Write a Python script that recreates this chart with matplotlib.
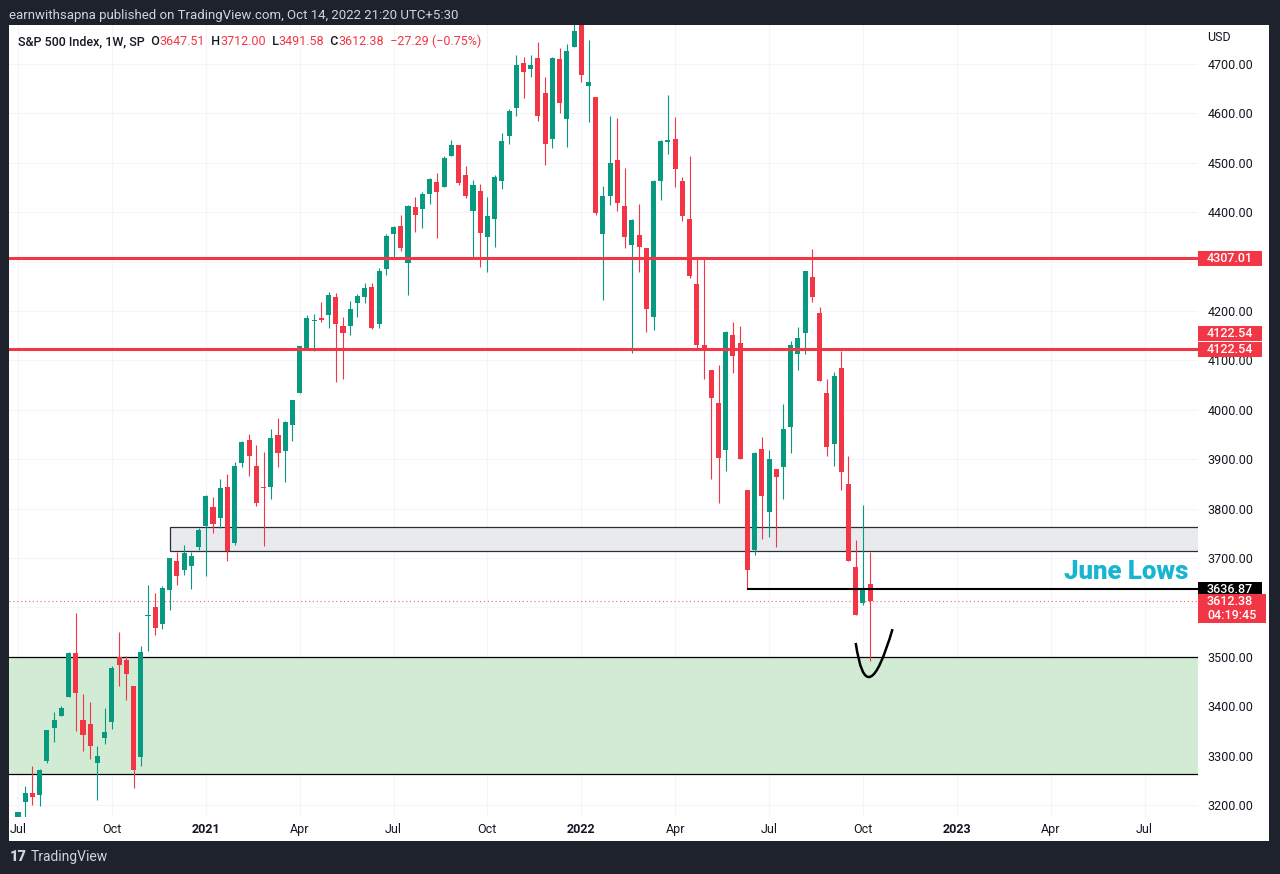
import matplotlib
matplotlib.use("Agg")
import matplotlib.pyplot as plt
from matplotlib.patches import Rectangle, PathPatch
from matplotlib.path import Path
from matplotlib.transforms import blended_transform_factory
from matplotlib.offsetbox import TextArea, HPacker, AnchoredOffsetbox

plt.rcParams["font.family"] = ["Roboto", "DejaVu Sans"]

# weekly S&P 500 bars, week of 6 Jul 2020 .. week of 10 Oct 2022
opens = [3155.3, 3205.1, 3224.3, 3219.8, 3288.3, 3356.0, 3380.9, 3418.1, 3507.4, 3371.9, 3363.6, 3285.6, 3336.3,
         3367.3, 3500.0, 3493.5, 3441.4, 3296.2, 3583.0, 3600.2, 3566.8, 3634.2, 3694.7, 3675.3, 3684.3, 3723.0,
         3764.6, 3803.1, 3781.9, 3844.2, 3731.2, 3892.6, 3939.6, 3885.6, 3842.5, 3844.4, 3949.6, 3916.5, 3969.3,
         4034.4, 4124.7, 4179.8, 4185.1, 4192.0, 4228.3, 4169.1, 4170.2, 4216.5, 4229.3, 4248.9, 4173.4, 4284.9,
         4356.5, 4372.4, 4296.4, 4409.6, 4406.9, 4437.8, 4461.7, 4450.3, 4513.8, 4535.4, 4474.8, 4403.0, 4442.1,
         4348.8, 4385.4, 4463.7, 4553.7, 4610.6, 4701.5, 4689.3, 4712.0, 4640.3, 4548.4, 4710.3, 4587.9, 4734.0,
         4778.1, 4655.3, 4632.2, 4356.3, 4431.8, 4505.8, 4412.6, 4332.7, 4354.2, 4327.0, 4188.8, 4462.4, 4541.1,
         4548.0, 4462.6, 4385.6, 4255.3, 4130.6, 4081.3, 4013.0, 3919.4, 4151.1, 4134.7, 3838.2, 3715.3, 3920.8,
         3792.6, 3880.9, 3883.8, 3965.7, 4112.4, 4155.9, 4269.4, 4195.1, 4034.6, 3930.9, 4083.7, 3849.9, 3682.7,
         3609.8, 3647.5]
highs = [3186.8, 3238.3, 3279.3, 3272.2, 3352.5, 3387.9, 3400.0, 3509.2, 3588.1, 3425.6, 3409.4, 3320.3, 3397.2,
         3482.3, 3549.9, 3502.4, 3441.4, 3521.0, 3646.0, 3628.5, 3644.3, 3699.2, 3712.4, 3726.7, 3711.2, 3760.2,
         3826.7, 3823.6, 3859.8, 3870.9, 3894.1, 3937.2, 3950.4, 3928.7, 3914.5, 3960.3, 3983.9, 3978.2, 4020.6,
         4129.5, 4191.3, 4194.2, 4218.8, 4238.0, 4236.4, 4188.7, 4219.6, 4233.5, 4255.8, 4257.2, 4286.1, 4356.5,
         4372.2, 4393.7, 4415.2, 4430.0, 4440.8, 4468.7, 4479.7, 4513.3, 4545.9, 4535.4, 4493.0, 4465.4, 4457.3,
         4430.0, 4475.8, 4559.7, 4608.1, 4718.5, 4714.9, 4717.8, 4743.8, 4673.0, 4713.6, 4732.0, 4740.7, 4808.9,
         4818.6, 4748.8, 4632.2, 4453.2, 4595.3, 4590.0, 4489.6, 4385.6, 4416.8, 4327.0, 4465.4, 4546.0, 4637.3,
         4593.5, 4471.0, 4512.9, 4308.5, 4307.7, 4081.3, 4090.7, 4158.5, 4177.5, 4168.8, 3838.2, 3913.7, 3945.9,
         3918.5, 3880.9, 4012.4, 4140.2, 4167.7, 4280.5, 4325.3, 4207.4, 4063.0, 4076.8, 4119.3, 3906.0, 3736.7,
         3806.9, 3712.0]
lows = [3115.7, 3173.4, 3200.8, 3198.6, 3284.5, 3327.1, 3379.3, 3418.1, 3349.6, 3310.2, 3292.4, 3209.5, 3323.7,
        3354.5, 3440.5, 3412.9, 3233.9, 3279.7, 3511.9, 3543.8, 3555.4, 3594.4, 3645.8, 3665.0, 3636.5, 3716.0,
        3662.7, 3749.6, 3760.4, 3694.1, 3725.6, 3884.9, 3865.1, 3805.6, 3723.3, 3819.3, 3883.8, 3853.5, 3937.7,
        4034.4, 4120.6, 4118.4, 4176.8, 4165.9, 4056.9, 4061.4, 4152.1, 4188.7, 4216.0, 4164.4, 4165.5, 4271.9,
        4305.0, 4321.5, 4233.1, 4360.6, 4367.7, 4416.2, 4347.5, 4450.3, 4513.8, 4456.0, 4427.8, 4305.9, 4288.5,
        4278.9, 4329.9, 4447.5, 4537.4, 4595.1, 4630.9, 4672.8, 4585.4, 4495.1, 4529.5, 4600.2, 4531.1, 4734.0,
        4662.7, 4582.2, 4395.3, 4222.6, 4414.0, 4401.4, 4327.2, 4114.7, 4279.5, 4157.9, 4161.7, 4424.3, 4517.7,
        4450.0, 4381.3, 4267.6, 4124.3, 4062.5, 3858.9, 3810.3, 3875.1, 4074.4, 3900.2, 3636.9, 3705.7, 3738.7,
        3742.1, 3721.6, 3818.6, 3913.0, 4079.8, 4112.1, 4218.7, 4057.7, 3906.2, 3886.8, 3837.1, 3693.0, 3584.1,
        3604.0, 3491.6]
closes = [3185.0, 3224.7, 3215.6, 3271.1, 3351.3, 3372.9, 3397.2, 3508.0, 3427.0, 3341.0, 3319.5, 3298.5, 3348.4,
          3477.1, 3483.8, 3465.4, 3270.0, 3509.4, 3585.2, 3557.5, 3638.4, 3699.1, 3663.5, 3709.4, 3703.1, 3756.1,
          3824.7, 3768.3, 3841.5, 3714.2, 3886.8, 3934.8, 3906.7, 3811.2, 3841.9, 3943.3, 3913.1, 3974.5, 4019.9,
          4128.8, 4185.5, 4180.2, 4181.2, 4232.6, 4173.9, 4155.9, 4204.1, 4229.9, 4247.4, 4166.5, 4280.7, 4352.3,
          4369.6, 4327.2, 4411.8, 4395.3, 4436.5, 4468.0, 4441.7, 4509.4, 4535.4, 4458.6, 4433.0, 4455.5, 4357.0,
          4391.3, 4471.4, 4544.9, 4605.4, 4697.5, 4682.9, 4698.0, 4594.6, 4538.4, 4712.0, 4620.6, 4725.8, 4766.2,
          4677.0, 4662.9, 4397.9, 4431.9, 4500.5, 4418.6, 4348.9, 4384.7, 4328.9, 4204.3, 4463.1, 4543.1, 4545.9,
          4488.3, 4392.6, 4271.8, 4131.9, 4123.3, 4023.9, 3901.4, 4158.2, 4108.5, 3900.9, 3674.8, 3911.7, 3825.3,
          3899.4, 3863.2, 3961.6, 4130.3, 4145.2, 4280.2, 4228.5, 4057.7, 3924.3, 4067.4, 3873.3, 3693.2, 3585.6,
          3639.7, 3612.4]

# time axis: bar index of the first bar of each labelled month
month_idx = [0, 13, 26, 39, 52, 65, 78, 91, 104, 117, 130, 143, 156]
month_lbl = ["Jul", "Oct", "2021", "Apr", "Jul", "Oct", "2022", "Apr", "Jul", "Oct", "2023", "Apr", "Jul"]
price_ticks = list(range(3200, 4800, 100))
hidden_ticks = [4300, 3600]     # covered by price tags on the scale

resist_levels = [4307.01, 4122.54]
june_low = 3636.87
june_low_start = 101
grey_zone = [3713.6, 3763.4]
grey_zone_start = 21
green_zone = [3262.6, 3500.0]
last_price = 3612.38
countdown = "04:19:45"
arc_x = [116.0, 117.5, 121.1]
arc_y = [3528.0, 3377.0, 3556.0]

UP, DN = "#089981", "#f23645"
INK = "#131722"
FRAME = "#1e222d"

W, H = 1280, 874
fig = plt.figure(figsize=(W / 100, H / 100), dpi=100, facecolor=FRAME)
# white chart panel
fig.patches.append(Rectangle((9 / W, 1 - 841 / H), 1260 / W, 816 / H, transform=fig.transFigure,
                             facecolor="white", edgecolor="none", zorder=-5))

ax_l, ax_r, ax_t, ax_b = 9, 1198, 25, 817
ax = fig.add_axes([ax_l / W, 1 - ax_b / H, (ax_r - ax_l) / W, (ax_b - ax_t) / H])
ax.set_zorder(2)
ax.set_facecolor("none")
ax.set_axisbelow(True)
ax.set_xlim(-1.25, 163.4)
ax.set_ylim(3175.7, 4778.9)
ppu = (ax_b - ax_t) / (4778.9 - 3175.7)   # pixels per index point
axw = ax_r - ax_l

for s in ax.spines.values():
    s.set_visible(False)
ax.set_xticks(month_idx)
ax.set_xticklabels(month_lbl)
for lab in ax.get_xticklabels():
    if lab.get_text().isdigit():
        lab.set_fontweight("bold")
ax.yaxis.tick_right()
ax.set_yticks(price_ticks)
ax.set_yticklabels(["" if v in hidden_ticks else f"{v:.2f}" for v in price_ticks])
ax.tick_params(axis="x", length=0, pad=4.5, labelsize=9, labelcolor=INK)
ax.tick_params(axis="y", length=0, pad=7, labelsize=9, labelcolor=INK)
ax.grid(True, color="#f3f5fa", lw=0.8)

# zones
ax.axhspan(green_zone[0], green_zone[1], facecolor="#d2ebd4", edgecolor="none", zorder=1)
ax.hlines(green_zone, -5, 200, colors="black", lw=0.9, zorder=1.5)
ax.add_patch(Rectangle((grey_zone_start, grey_zone[0]), 200, grey_zone[1] - grey_zone[0],
                       facecolor="#e9eaed", edgecolor="#2a2e39", lw=0.9, zorder=1))

# last price dotted line
ax.axhline(last_price, color=DN, lw=0.8, ls=(0, (1, 2.5)), alpha=0.8, zorder=1.6)

# candles
idx = list(range(len(closes)))
cols = [UP if c >= o else DN for o, c in zip(opens, closes)]
ax.vlines(idx, lows, highs, colors=cols, lw=0.8, zorder=2)
min_h = 1.2 / ppu
bottoms = [min(o, c) for o, c in zip(opens, closes)]
heights = [max(abs(c - o), min_h) for o, c in zip(opens, closes)]
ax.bar(idx, heights, bottom=bottoms, width=0.7, color=cols, edgecolor="none", zorder=2.2)

# drawings
for lv in resist_levels:
    ax.axhline(lv, color=DN, lw=2.2, zorder=4)
ax.hlines(june_low, june_low_start, 200, colors="black", lw=1.5, zorder=4)
arc = Path(list(zip(arc_x, arc_y)), [Path.MOVETO, Path.CURVE3, Path.CURVE3])
ax.add_patch(PathPatch(arc, facecolor="none", edgecolor="black", lw=1.8, zorder=4, clip_on=False))
trans = blended_transform_factory(ax.transAxes, ax.transData)
ax.text((1188 - ax_l) / axw, june_low + (589.5 - 572) / ppu, "June Lows", transform=trans,
        ha="right", va="center", color="#18b5d2", fontsize=18.5, fontweight="heavy", zorder=5)


# price-scale tags
def tag(price, lines, color, w_px=64, h_px=15, dy_px=0.0):
    yc = price + dy_px / ppu
    n = len(lines)
    top = yc + h_px / 2 / ppu
    bottom = top - (h_px + (n - 1) * 14) / ppu
    ax.add_patch(Rectangle((1.0, bottom), w_px / axw, top - bottom, transform=trans,
                           facecolor=color, edgecolor="none", clip_on=False, zorder=6))
    for k, s in enumerate(lines):
        ax.text(1.0 + 9 / axw, yc - k * 14 / ppu, s, transform=trans, ha="left", va="center",
                color="white", fontsize=9, fontweight="medium", zorder=7, clip_on=False)


tag(resist_levels[0], ["4307.01"], DN)
tag(resist_levels[1], ["4122.54"], DN, dy_px=16)
tag(resist_levels[1], ["4122.54"], DN)
tag(june_low, [f"{june_low:.2f}"], "black")
tag(last_price, [f"{last_price:.2f}", countdown], DN, w_px=68)
ax.text(1.0 + 9 / axw, 4700 + 26 / ppu, "USD", transform=trans, ha="left", va="center",
        color=INK, fontsize=9, clip_on=False)

# legend line
parts = [("S&P 500 Index, 1W, SP", INK, "medium"), ("  O", INK, "medium"), ("3647.51", DN, "normal"),
         ("  H", INK, "medium"), ("3712.00", DN, "normal"), ("  L", INK, "medium"),
         ("3491.58", DN, "normal"), ("  C", INK, "medium"), ("3612.38", DN, "normal"),
         ("  \u221227.29 (\u22120.75%)", DN, "normal")]
boxes = [TextArea(s, textprops=dict(color=c, fontsize=9, fontweight=fw)) for s, c, fw in parts]
pack = HPacker(children=boxes, align="baseline", pad=0, sep=0)
anch = AnchoredOffsetbox(loc="upper left", child=pack, pad=0, borderpad=0, frameon=False,
                         bbox_to_anchor=(18 / W, 1 - 35 / H), bbox_transform=fig.transFigure)
fig.add_artist(anch)

# frame texts
fig.text(9 / W, 1 - 15 / H, "earnwithsapna published on TradingView.com, Oct 14, 2022 21:20 UTC+5:30",
         ha="left", va="center", color="#d1d4dc", fontsize=9.5)
fig.text(10 / W, 1 - 857 / H, "17", ha="left", va="center", color="#d1d4dc", fontsize=10.5,
         fontweight="heavy")
fig.text(31 / W, 1 - 857 / H, "TradingView", ha="left", va="center", color="#d1d4dc", fontsize=10)

fig.savefig("out.png", dpi=100, facecolor=FRAME)
